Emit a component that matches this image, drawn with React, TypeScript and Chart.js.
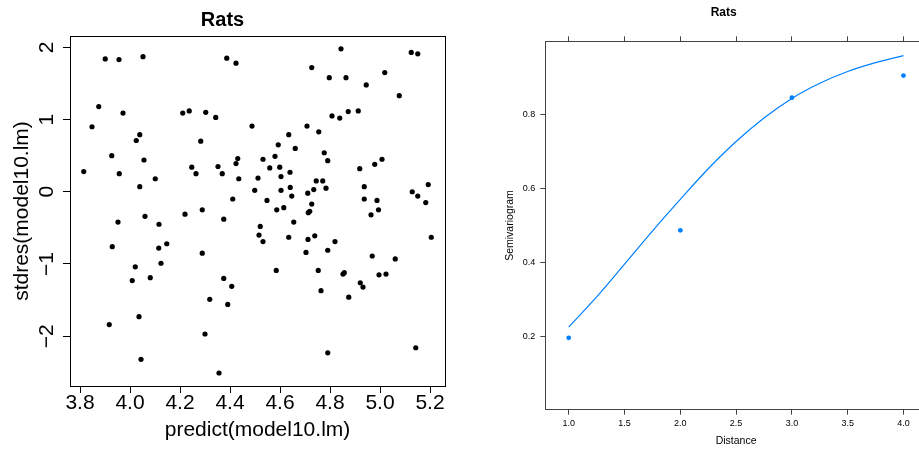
import React, { useEffect, useRef } from "react";
import { Chart, registerables } from "chart.js";

Chart.register(...registerables);

const FONT = "'Liberation Sans', Arial, Helvetica, sans-serif";

// ---------- Left panel: standardized residuals vs fitted ----------
const predictValues = [
  3.901, 3.956, 4.052, 4.387, 4.424, 3.875, 3.972, 4.211, 4.237, 4.303,
  4.343, 3.848, 4.488, 4.039, 4.025, 4.283, 3.927, 4.056, 4.247, 4.352,
  4.431, 4.424, 3.815, 3.957, 4.264, 4.369, 4.101, 4.435, 4.512, 4.039,
  4.499, 4.411, 4.289, 4.844, 5.125, 5.151, 4.727, 4.797, 4.864, 5.019,
  4.945, 5.077, 4.808, 4.839, 4.873, 4.913, 4.708, 4.755, 4.635, 4.593,
  4.661, 4.532, 4.58, 4.777, 4.791, 4.559, 4.599, 4.64, 4.604, 4.919,
  4.979, 5.008, 4.745, 4.771, 4.604, 4.641, 4.647, 4.711, 4.735, 4.784,
  4.937, 5.193, 5.129, 5.151, 4.548, 4.727, 4.937, 4.988, 5.183, 4.587,
  4.615, 4.994, 3.952, 4.06, 4.116, 4.22, 4.375, 4.521, 4.516, 3.929,
  4.115, 4.147, 4.289, 4.021, 4.124, 4.009, 4.081, 4.375, 4.407, 4.319,
  4.391, 4.036, 3.917, 4.3, 4.044, 4.356, 4.719, 4.713, 4.964, 4.532,
  4.655, 4.635, 4.712, 4.739, 4.82, 4.704, 4.791, 4.969, 5.061, 5.205,
  4.585, 4.753, 4.857, 4.852, 4.996, 5.024, 4.764, 4.921, 4.932, 4.875,
  4.791, 5.143,
];

const stdresValues = [
  1.84, 1.83, 1.87, 1.85, 1.78, 1.18, 1.09, 1.09, 1.12, 1.1,
  1.03, 0.9, 0.91, 0.79, 0.71, 0.7, 0.5, 0.44, 0.34, 0.35,
  0.46, 0.39, 0.28, 0.25, 0.25, 0.25, 0.18, 0.18, 0.19, 0.07,
  0.02, -0.1, -0.25, 1.98, 1.93, 1.91, 1.72, 1.58, 1.58, 1.65,
  1.48, 1.33, 1.05, 1.02, 1.11, 1.12, 0.91, 0.83, 0.79, 0.65,
  0.6, 0.45, 0.49, 0.54, 0.43, 0.33, 0.34, 0.27, 0.21, 0.32,
  0.38, 0.45, 0.15, 0.15, 0.02, 0.06, -0.06, -0.02, 0.03, 0.05,
  0.07, 0.1, 0.0, -0.06, -0.12, -0.17, -0.1, -0.12, -0.15, -0.25,
  -0.22, -0.25, -0.42, -0.34, -0.45, -0.31, -0.38, -0.48, -0.6, -0.76,
  -0.78, -0.72, -0.85, -1.04, -0.99, -1.23, -1.19, -1.2, -1.31, -1.49,
  -1.56, -1.73, -1.84, -1.97, -2.32, -2.51, -0.27, -0.29, -0.32, -0.69,
  -0.42, -0.63, -0.66, -0.61, -0.69, -0.84, -0.81, -0.89, -0.93, -0.63,
  -1.09, -1.09, -1.12, -1.14, -1.15, -1.14, -1.37, -1.26, -1.32, -1.46,
  -2.23, -2.16,
];

const leftXTicks = [3.8, 4.0, 4.2, 4.4, 4.6, 4.8, 5.0, 5.2];
const leftYTicks = [-2, -1, 0, 1, 2];

// ---------- Right panel: semivariogram ----------
const distanceValues = [1, 2, 3, 4];
const semivariogramValues = [0.195, 0.487, 0.847, 0.907];
const curveDistance = [1.0, 1.25, 1.5, 1.75, 2.0, 2.25, 2.5, 2.75, 3.0, 3.25, 3.5, 3.75, 4.0];
const curveValues = [0.224, 0.306, 0.395, 0.485, 0.571, 0.654, 0.728, 0.792, 0.845, 0.886, 0.918, 0.942, 0.961];
const rightXTicks = [1.0, 1.5, 2.0, 2.5, 3.0, 3.5, 4.0];
const rightYTicks = [0.2, 0.4, 0.6, 0.8];

const fmtMinus = (v: number) => (v < 0 ? "\u2212" + Math.abs(v) : String(v));

function LeftChart() {
  const ref = useRef<HTMLCanvasElement | null>(null);
  useEffect(() => {
    if (!ref.current) return;
    const boxPlugin = {
      id: "leftBox",
      afterDraw(chart: any) {
        const { ctx, chartArea: a, scales } = chart;
        ctx.save();
        ctx.strokeStyle = "#000";
        ctx.lineWidth = 1;
        ctx.strokeRect(Math.round(a.left) + 0.5, Math.round(a.top) + 0.5, Math.round(a.right - a.left), Math.round(a.bottom - a.top));
        ctx.fillStyle = "#000";
        ctx.font = `21px ${FONT}`;
        ctx.textAlign = "center";
        ctx.textBaseline = "alphabetic";
        const ys = scales.y;
        for (const v of leftYTicks) {
          const py = ys.getPixelForValue(v);
          ctx.save();
          ctx.translate(53, py);
          ctx.rotate(-Math.PI / 2);
          ctx.fillText(fmtMinus(v), 0, 0);
          ctx.restore();
        }
        ctx.restore();
      },
    };
    const chart = new Chart(ref.current, {
      type: "scatter",
      data: {
        datasets: [
          {
            data: predictValues.map((x, i) => ({ x, y: stdresValues[i] })),
            backgroundColor: "#000",
            borderWidth: 0,
            pointRadius: 2.6,
          },
        ],
      },
      options: {
        animation: false,
        responsive: false,
        events: [],
        layout: { padding: { left: 0, right: 15, top: 0, bottom: 0 } },
        plugins: {
          legend: { display: false },
          tooltip: { enabled: false },
          title: {
            display: true,
            text: "Rats",
            color: "#000",
            font: { family: FONT, size: 20, weight: "bold" },
            padding: { top: 8, bottom: 4 },
          },
        },
        scales: {
          x: {
            type: "linear",
            position: "bottom",
            min: 3.76,
            max: 5.26,
            afterBuildTicks: (s: any) => {
              s.ticks = leftXTicks.map((v) => ({ value: v }));
            },
            afterFit: (s: any) => {
              s.height = 63;
            },
            grid: { drawOnChartArea: false, drawTicks: true, tickLength: 7, color: "#000", lineWidth: 1 },
            border: { display: true, color: "#000", width: 1 },
            ticks: {
              color: "#000",
              font: { family: FONT, size: 21 },
              padding: -2,
              maxRotation: 0,
              autoSkip: false,
              callback: (v: any) => Number(v).toFixed(1),
            },
            title: {
              display: true,
              text: "predict(model10.lm)",
              color: "#000",
              font: { family: FONT, size: 21 },
              padding: { top: 0, bottom: 6 },
            },
          },
          y: {
            type: "linear",
            position: "left",
            min: -2.69,
            max: 2.157,
            afterBuildTicks: (s: any) => {
              s.ticks = leftYTicks.map((v) => ({ value: v }));
            },
            afterFit: (s: any) => {
              s.width = 70;
            },
            grid: { drawOnChartArea: false, drawTicks: true, tickLength: 7, color: "#000", lineWidth: 1 },
            border: { display: true, color: "#000", width: 1 },
            ticks: { display: false },
            title: {
              display: true,
              text: "stdres(model10.lm)",
              color: "#000",
              font: { family: FONT, size: 21 },
              padding: { top: 10, bottom: 0 },
            },
          },
        },
      },
      plugins: [boxPlugin],
    } as any);
    return () => chart.destroy();
  }, []);
  return <canvas ref={ref} width={460} height={449} style={{ position: "absolute", left: 0, top: 0, width: 460, height: 449 }} />;
}

function RightChart() {
  const ref = useRef<HTMLCanvasElement | null>(null);
  useEffect(() => {
    if (!ref.current) return;
    const decor = {
      id: "rightDecor",
      afterDraw(chart: any) {
        const { ctx, chartArea: a } = chart;
        ctx.save();
        ctx.strokeStyle = "#444";
        ctx.lineWidth = 1;
        ctx.strokeRect(Math.round(a.left) + 0.5, Math.round(a.top) + 0.5, Math.round(a.right - a.left), Math.round(a.bottom - a.top));
        ctx.fillStyle = "#000";
        ctx.font = `bold 12px ${FONT}`;
        ctx.textAlign = "center";
        ctx.textBaseline = "middle";
        ctx.fillText("Rats", 263.7, 13);
        ctx.restore();
      },
    };
    const axisGrid = { drawOnChartArea: false, drawTicks: true, tickLength: 5, color: "#444", lineWidth: 1 };
    const axisBorder = { display: true, color: "#444", width: 1 };
    const chart = new Chart(ref.current, {
      type: "scatter",
      data: {
        datasets: [
          {
            data: curveDistance.map((x, i) => ({ x, y: curveValues[i] })),
            showLine: true,
            borderColor: "#0080ff",
            borderWidth: 1.2,
            pointRadius: 0,
            cubicInterpolationMode: "monotone",
            fill: false,
          },
          {
            data: distanceValues.map((x, i) => ({ x, y: semivariogramValues[i] })),
            backgroundColor: "#0080ff",
            borderWidth: 0,
            pointRadius: 2.4,
          },
        ],
      },
      options: {
        animation: false,
        responsive: false,
        events: [],
        layout: { padding: { left: 0, right: 13.1, top: 0, bottom: 0 } },
        plugins: { legend: { display: false }, tooltip: { enabled: false }, title: { display: false } },
        scales: {
          x: {
            type: "linear",
            position: "bottom",
            min: 0.79,
            max: 4.21,
            afterBuildTicks: (s: any) => {
              s.ticks = rightXTicks.map((v) => ({ value: v }));
            },
            afterFit: (s: any) => {
              s.height = 39.3;
            },
            grid: axisGrid,
            border: axisBorder,
            ticks: {
              color: "#000",
              font: { family: FONT, size: 9 },
              padding: 3,
              maxRotation: 0,
              autoSkip: false,
              callback: (v: any) => Number(v).toFixed(1),
            },
            title: {
              display: true,
              text: "Distance",
              color: "#000",
              font: { family: FONT, size: 10.5 },
              padding: { top: 0, bottom: 2 },
            },
          },
          x2: {
            type: "linear",
            position: "top",
            min: 0.79,
            max: 4.21,
            afterBuildTicks: (s: any) => {
              s.ticks = rightXTicks.map((v) => ({ value: v }));
            },
            afterFit: (s: any) => {
              s.height = 41.3;
            },
            grid: axisGrid,
            border: axisBorder,
            ticks: { display: false },
          },
          y: {
            type: "linear",
            position: "left",
            min: 0,
            max: 1,
            afterBuildTicks: (s: any) => {
              s.ticks = rightYTicks.map((v) => ({ value: v }));
            },
            afterFit: (s: any) => {
              s.width = 85.3;
            },
            grid: axisGrid,
            border: axisBorder,
            ticks: {
              color: "#000",
              font: { family: FONT, size: 9 },
              padding: 5,
              autoSkip: false,
              callback: (v: any) => Number(v).toFixed(1),
            },
            title: {
              display: true,
              text: "Semivariogram",
              color: "#000",
              font: { family: FONT, size: 10.5 },
              padding: { top: 44.2, bottom: 0 },
            },
          },
        },
      },
      plugins: [decor],
    } as any);
    return () => chart.destroy();
  }, []);
  return <canvas ref={ref} width={480} height={449} style={{ position: "absolute", left: 460, top: 0, width: 480, height: 449 }} />;
}

export default function App() {
  return (
    <div style={{ position: "fixed", left: 0, top: 0, width: 919, height: 449, overflow: "hidden", background: "#fff" }}>
      <LeftChart />
      <RightChart />
    </div>
  );
}
